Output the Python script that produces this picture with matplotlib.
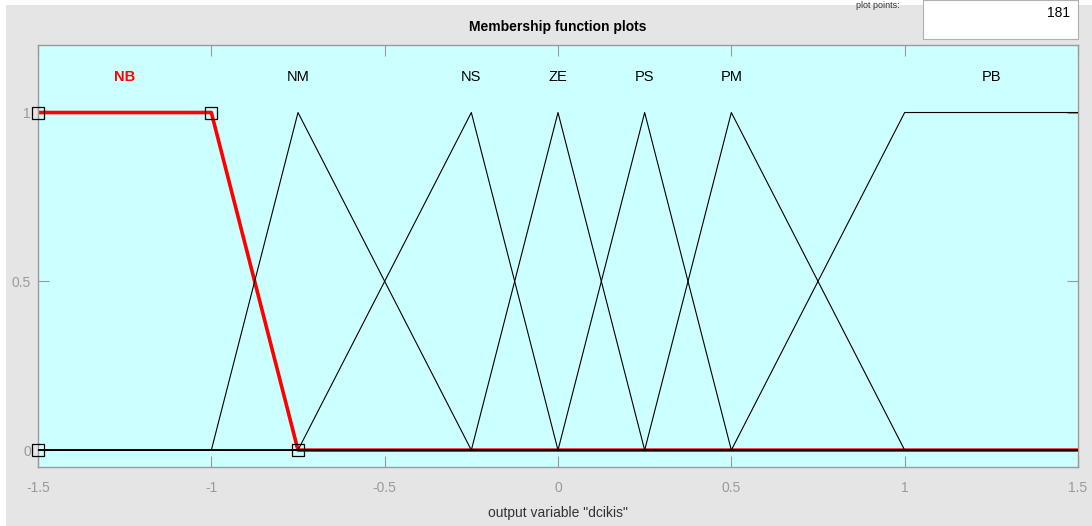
import numpy as np
import matplotlib
matplotlib.use("Agg")
import matplotlib.pyplot as plt
from matplotlib.patches import Rectangle

plt.rcParams['font.family'] = ['Liberation Sans', 'DejaVu Sans']

# membership functions of output variable "dcikis"
mf_names = ['NB', 'NM', 'NS', 'ZE', 'PS', 'PM', 'PB']
mf_params = [
    [-1.5, -1.5, -1.0, -0.75],   # trapmf
    [-1.0, -0.75, -0.25],        # trimf
    [-0.75, -0.25, 0.0],
    [-0.25, 0.0, 0.25],
    [0.0, 0.25, 0.5],
    [0.25, 0.5, 1.0],
    [0.5, 1.0, 1.5, 1.5],        # trapmf
]
label_x = [-1.25, -0.75, -0.25, 0.0, 0.25, 0.5, 1.25]
selected = 'NB'
x_range = [-1.5, 1.5]
x_ticks = [-1.5, -1, -0.5, 0, 0.5, 1, 1.5]
x_ticklabels = ['-1.5', '-1', '-0.5', '0', '0.5', '1', '1.5']
y_ticks = [0, 0.5, 1]
y_ticklabels = ['0', '0.5', '1']
plot_points = 181


def param_heights(p):
    return [0, 1, 0] if len(p) == 3 else [0, 1, 1, 0]


def mf_vertices(p):
    # polyline over the whole range, shoulders at the edges kept flat
    xs = [x_range[0]] + list(p) + [x_range[1]]
    ys = [0] + param_heights(p) + [0]
    out_x, out_y = [], []
    for xv, yv in zip(xs, ys):
        if out_x and xv == out_x[-1] and xv in x_range:
            if xv == x_range[0]:
                out_y[-1] = yv
            continue
        out_x.append(xv)
        out_y.append(yv)
    return out_x, out_y


grey_bg = '#e5e5e5'
tick_col = '#9a9a9a'

fig = plt.figure(figsize=(10.92, 5.26), dpi=100, facecolor=grey_bg)
# white edge strips of the screenshot
fig.patches.append(Rectangle((0, 0), 6 / 1092, 1, transform=fig.transFigure,
                             facecolor='white', edgecolor='none', zorder=0))
fig.patches.append(Rectangle((0, 1 - 5 / 526), 1, 5 / 526, transform=fig.transFigure,
                             facecolor='white', edgecolor='none', zorder=0))
# plot points box
fig.patches.append(Rectangle((923 / 1092, 1 - 39 / 526), 155 / 1092, 39 / 526,
                             transform=fig.transFigure, facecolor='white',
                             edgecolor='#b0b0b0', linewidth=0.8, zorder=1))
fig.text(1070 / 1092, 1 - 13 / 526, str(plot_points), ha='right', va='center', fontsize=10)
fig.text(878 / 1092, 1 - 1 / 526, 'plot points:', ha='center', va='top', fontsize=6.5,
         color='#333333')

ax = fig.add_axes([38 / 1092, 1 - 467 / 526, 1040 / 1092, 422 / 526])
ax.set_facecolor('#ccffff')
ax.set_xlim(x_range)
ax.set_ylim(-0.05, 1.2)

for name, p in zip(mf_names, mf_params):
    xs, ys = mf_vertices(p)
    if name == selected:
        ax.plot(xs, ys, color='red', lw=2.6, zorder=2)
        ax.plot(p, param_heights(p), ls='none', marker='s', ms=8, mfc='none',
                mec='black', mew=0.9, zorder=5, clip_on=False)
    else:
        ax.plot(xs, ys, color='black', lw=0.8, zorder=3)

for name, lx in zip(mf_names, label_x):
    if name == selected:
        ax.text(lx, 1.105, name, color='red', fontweight='bold', ha='center', va='center', fontsize=10.5)
    else:
        ax.text(lx, 1.105, name, color='black', ha='center', va='center', fontsize=10.5)

ax.set_xticks(x_ticks)
ax.set_xticklabels(x_ticklabels)
ax.set_yticks(y_ticks)
ax.set_yticklabels(y_ticklabels)
ax.tick_params(axis='both', direction='in', colors=tick_col, labelcolor=tick_col,
               labelsize=10, top=True, right=True, length=8, width=0.8)
ax.tick_params(axis='x', pad=10)
ax.tick_params(axis='y', pad=5)
for s in ax.spines.values():
    s.set_color(tick_col)
    s.set_linewidth(1.0)

ax.set_title('Membership function plots', fontweight='bold', fontsize=10, pad=10)
ax.set_xlabel('output variable "dcikis"', fontsize=10, labelpad=8, color='#333333')

fig.savefig('out.png', dpi=100, facecolor=grey_bg)
